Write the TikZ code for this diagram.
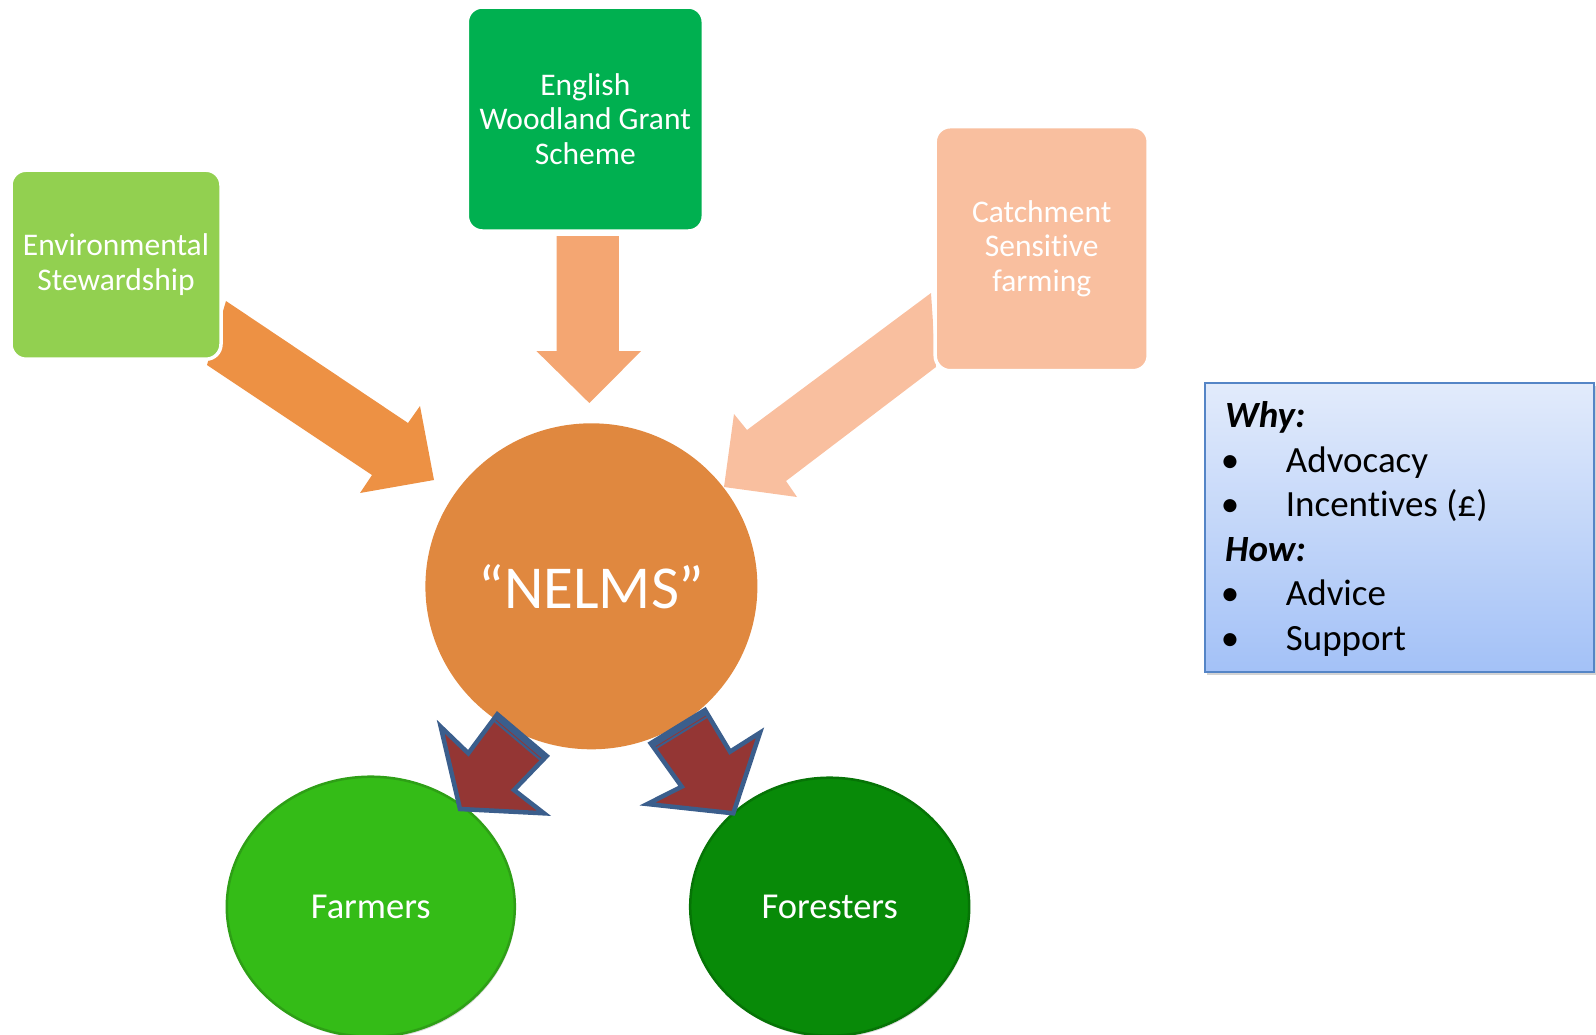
\documentclass[tikz,border=0pt]{standalone}
\usepackage{fontspec}
\setmainfont{Carlito}[Ligatures=NoCommon]
\usetikzlibrary{shapes.geometric,shadows}
\definecolor{esgreen}{HTML}{92D050}
\definecolor{ewgreen}{HTML}{00B050}
\definecolor{csfpeach}{HTML}{F9BF9F}
\definecolor{nelmsor}{HTML}{E0883F}
\definecolor{arrone}{HTML}{ED9144}
\definecolor{arrtwo}{HTML}{F4A672}
\definecolor{arrthree}{HTML}{F9BF9F}
\definecolor{darkred}{HTML}{943634}
\definecolor{arrblue}{HTML}{3B5E8C}
\definecolor{farmgreen}{HTML}{34BC17}
\definecolor{farmedge}{HTML}{2E9F16}
\definecolor{forestgreen}{HTML}{088A08}
\definecolor{forestedge}{HTML}{067406}
\definecolor{boxtop}{HTML}{E2EBFB}
\definecolor{boxbottom}{HTML}{A3C1F7}
\definecolor{boxborder}{HTML}{5585C6}
\begin{document}
\begin{tikzpicture}[x=1pt,y=-1pt,
  schemebox/.style={rectangle, rounded corners=15pt, draw=white, line width=3.5pt,
    text=white, align=center, inner sep=0pt, font=\fontsize{31.5}{34.8}\selectfont},
  groupell/.style={ellipse, inner sep=0pt, text=white, line width=2.5pt,
    font=\fontsize{36.5}{40}\selectfont,
    drop shadow={opacity=0.3, shadow xshift=1pt, shadow yshift=-2pt}},
  infotext/.style={anchor=base west, inner sep=0pt, font=\fontsize{37}{44}\selectfont},
  infohead/.style={infotext, font=\fontsize{37}{44}\selectfont\bfseries\itshape},
  bulletmark/.style={anchor=base, inner sep=0pt, font=\fontsize{37}{44}\selectfont}
]
\useasboundingbox (0,0) rectangle (1596,1034);

% --- incoming block arrows (behind the boxes) ---
\fill[arrone] (226,301) -- (408,423) -- (420,406) -- (434,480) -- (360,493)
  -- (372,475) -- (207,365) -- cycle;
\fill[arrtwo] (556.7,236) -- (618.9,236) -- (618.9,351) -- (641.2,351)
  -- (589.3,403) -- (536.4,351) -- (556.7,351) -- cycle;
\fill[arrthree] (931,293) -- (747,430) -- (734,414) -- (724,487) -- (797,497)
  -- (786,481) -- (936,367) -- cycle;

% --- scheme boxes ---
\node[schemebox, fill=esgreen, minimum width=210pt, minimum height=189pt]
  (es) at (116,264.7) {Environmental\\Stewardship};
\node[schemebox, fill=ewgreen, minimum width=236pt, minimum height=224pt]
  (ew) at (585.3,119) {English\\Woodland Grant\\Scheme};
\node[schemebox, fill=csfpeach, minimum width=213pt, minimum height=244pt]
  (csf) at (1041.7,248.7) {Catchment\\Sensitive\\farming};

% --- central circle ---
\node[ellipse, fill=nelmsor, minimum width=332pt, minimum height=326pt, inner sep=0pt,
  text=white, font=\fontsize{61}{66}\selectfont] (nelms) at (591.4,586.3) {“NELMS”};

% --- target groups ---
\node[groupell, fill=farmgreen, draw=farmedge, minimum width=288pt, minimum height=260pt]
  (farm) at (370.8,906.7) {Farmers};
\node[groupell, fill=forestgreen, draw=forestedge, minimum width=279pt, minimum height=258pt]
  (forest) at (829.7,906.7) {Foresters};

% --- outgoing block arrows ---
\def\leftarr{(497.3,714.3) -- (546.7,756) -- (514,790) -- (544,813.3) -- (460,809)
  -- (440.7,726.7) -- (468.3,753.3) -- cycle}
\def\rightarr{(705,710) -- (730,751.7) -- (760,732.7) -- (733.3,813.3) -- (647.3,804)
  -- (681.7,786.7) -- (650.7,743.3) -- cycle}
\fill[darkred] \leftarr;
\begin{scope}
  \clip \leftarr;
  \draw[arrblue, line width=16pt] (497.3,714.3) -- (546.7,756);
  \draw[darkred, line width=0.8pt] (494.1,718.6) -- (543.5,760.3);
\end{scope}
\draw[arrblue, line width=4.5pt, line join=miter] \leftarr;
\fill[darkred] \rightarr;
\begin{scope}
  \clip \rightarr;
  \draw[arrblue, line width=16pt] (705,710) -- (650.7,743.3);
  \draw[darkred, line width=0.8pt] (708,714.6) -- (653.7,747.9);
\end{scope}
\draw[arrblue, line width=4.5pt, line join=miter] \rightarr;

% --- info box ---
\node[rectangle, draw=boxborder, line width=1.8pt, top color=boxtop, bottom color=boxbottom,
  minimum width=389pt, minimum height=289pt, inner sep=0pt,
  drop shadow={opacity=0.35, shadow xshift=2pt, shadow yshift=-3pt}]
  (info) at (1399.5,527.5) {};
\node[infohead] (why) at (1225,427) {Why:};
\node[bulletmark] (b1) at (1230,472) {•};
\node[infotext] (t1) at (1285.7,472) {Advocacy};
\node[bulletmark] (b2) at (1230,516.5) {•};
\node[infotext] (t2) at (1285.7,516.5) {Incentives (£)};
\node[infohead] (how) at (1225,561) {How:};
\node[bulletmark] (b3) at (1230,605.5) {•};
\node[infotext] (t3) at (1285.7,605.5) {Advice};
\node[bulletmark] (b4) at (1230,650) {•};
\node[infotext] (t4) at (1285.7,650) {Support};
\end{tikzpicture}
\end{document}
